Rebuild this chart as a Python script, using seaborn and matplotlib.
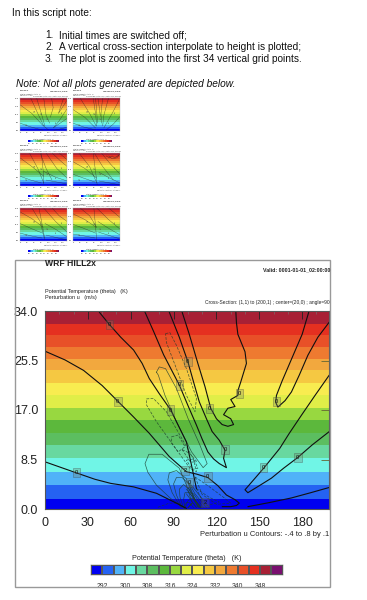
import numpy as np
import pandas as pd
import seaborn as sns
import matplotlib
matplotlib.use("Agg")
import matplotlib.pyplot as plt
from matplotlib.colors import ListedColormap
from matplotlib.patches import Rectangle

W, H = 367, 600

# colour table of the theta shading
theta_colors = ["#0000f0", "#2562f2", "#50b2f8", "#70f5e6", "#68d8a0", "#5cbe60", "#5cb83c",
                "#98d840", "#e0ee48", "#f8ec50", "#f5c842", "#f2a83e", "#ee7a30", "#e85028",
                "#e53020", "#a82035", "#7a1070"]
band_tops = [1.7, 4.1, 6.4, 8.7, 11, 13.1, 15.3, 17.4, 19.5, 21.7, 23.8, 25.8, 27.8, 29.8, 31.8, 34]
cbar_ticks = [1, 3, 5, 7, 9, 11, 13, 15]
cbar_labels = ["292", "300", "308", "316", "324", "332", "340", "348"]
x_ticks = [0, 30, 60, 90, 120, 150, 180]
y_ticks = [0, 8.5, 17, 25.5, 34]
y_labels = ["0.0", "8.5", "17.0", "25.5", "34.0"]

# main panel: zero contours (heavy)
zero_low = ([0, 22, 35, 46, 62, 78, 92, 99], [8.1, 6.2, 5.1, 4.4, 3.8, 2.7, 1.0, 0.1])
zero_long = ([0, 14, 27, 40, 51, 62, 73, 87, 99, 106, 114, 121, 127, 133, 136, 134, 130, 124],
             [27.1, 25.6, 23.8, 21.2, 18.5, 15.8, 13, 9, 6.4, 6, 5.4, 4, 2.4, 1.6, 1, 0.6, 0.4, 0.4])
zero_a = ([38, 45, 53, 62, 68, 73, 80, 88, 93, 99, 103, 106], [33.8, 31.7, 29.5, 27.3, 25, 22.4, 19.8, 17, 14.5, 11.5, 7, 3.5])
zero_u1 = ([70, 76, 83, 94, 100, 106, 110, 114, 118, 122, 127, 125, 126, 122, 117, 113, 108, 104, 100, 94, 87],
           [33.8, 30.5, 26.5, 21.3, 17.8, 14.4, 12, 9.8, 8.6, 7.8, 7.1, 8.7, 10.1, 11.8, 13.3, 15.5, 18.4, 21.8, 25.3, 29.5, 33.8])
zero_u2 = ([96, 101, 107, 112, 116, 120, 124, 128, 132, 130, 125, 128, 133, 130, 135, 135, 137, 141, 140, 135, 134, 133.6],
           [33.8, 30, 25, 21, 17.3, 15.5, 14.5, 14.2, 14.5, 15.5, 16.2, 17.3, 17.6, 18.8, 19.5, 20.3, 21.8, 25, 27, 30, 32, 33.8])
zero_r1 = ([184.6, 180, 173, 166, 162, 161.5, 163, 168, 172.5, 178, 184, 191, 199],
           [33.8, 30, 26, 22, 19.5, 18.3, 17.5, 18.6, 20.1, 23, 26.4, 29.5, 32.1])
zero_v = ([199, 189, 179.5, 171, 164.3, 153.4, 146, 140, 142, 150, 158.5, 167, 176.7, 187, 199],
          [23, 19.5, 16.1, 13, 10.4, 7.1, 5, 3.3, 2.8, 4, 5.3, 7, 8.8, 11, 13.3])
zero_low_r = ([142, 157, 172.5, 186, 199], [0.4, 1.1, 1.9, 2.8, 3.7])
heavy_lines = [zero_low, zero_long, zero_a, zero_u1, zero_u2, zero_r1, zero_v, zero_low_r]

# main panel: positive contours (thin, solid)
pos_loop = ([78, 80, 84.4, 92, 100.2, 108.4, 113.5, 110.7, 102.6, 92, 84, 79.3, 78],
            [23.5, 24.4, 24.1, 20.7, 15.5, 11, 7.8, 7.1, 9.8, 15, 19.5, 23, 23.5])
hill_1 = ([96, 88, 78, 72, 70, 72.7, 82, 94, 99, 102.6, 106], [0.4, 1.8, 4.1, 6.3, 7.8, 9.4, 9.4, 7, 4.1, 1.3, 0.3])
hill_2 = ([95, 89, 86, 87, 92, 99, 103, 107], [0.3, 2.8, 5, 6.2, 6.6, 5.2, 2.6, 0.3])
hill_3 = ([96, 92, 90, 92, 96, 101, 104, 108], [0.2, 2.4, 4.3, 5.4, 5.4, 4.2, 2.2, 0.2])
hill_4 = ([97, 94.5, 94, 97, 101, 105, 109], [0.2, 2, 3.4, 4.2, 3.4, 1.6, 0.2])
hill_5 = ([98, 97, 98, 101, 105, 110], [0.2, 1.6, 2.8, 2.8, 1.5, 0.2])
fan_1 = ([98, 100, 103, 108], [0.2, 1.4, 1.9, 0.2])
fan_2 = ([100, 102, 104, 111], [3.8, 2.8, 2.6, 0.2])
fan_3 = ([101, 105, 113], [4.4, 2.6, 0.2])
fan_4 = ([100, 103, 100], [0.2, 1, 0.2])
fan_5 = ([99, 103, 109], [3.4, 2.2, 0.2])
fan_6 = ([99, 102, 106], [2.6, 1.6, 0.2])
fan_7 = ([102, 106, 115], [4.2, 3, 0.2])
fan_8 = ([97, 99, 101, 104], [0.2, 1.1, 1.1, 0.2])
thin_solid = [pos_loop, hill_1, hill_2, hill_3, hill_4, hill_5, fan_1, fan_2, fan_3, fan_4,
              fan_5, fan_6, fan_7, fan_8]

# main panel: negative contours (thin, dashed)
neg_top = ([84.4, 87.4, 92, 99, 106, 105, 99, 92, 85, 84.4], [30.1, 30.3, 28.1, 24.1, 19, 16.7, 19.5, 24.1, 28.6, 30.1])
neg_mid = ([71, 75.8, 85, 94.4, 103.7, 106, 101.4, 89.7, 78, 71, 71], [18.9, 19, 16.7, 12.7, 8.7, 6.4, 7, 11, 15, 17.9, 18.9])
neg_in = ([88.6, 93.2, 98, 93.2, 88.6, 88.6], [12.4, 12.7, 10.7, 9.8, 11.3, 12.4])
neg_c1 = ([96, 101, 106, 102, 96], [10.2, 9.6, 8.2, 8, 10.2])
neg_c2 = ([99, 104, 107, 103, 99], [8.4, 8.6, 7, 6.8, 8.4])
neg_r1 = ([105, 114, 125, 130, 120, 110, 105], [5.5, 4, 2, 1, 0.8, 2.5, 5.5])
neg_r2 = ([106, 115, 122, 112, 106], [3.5, 2, 1.2, 0.5, 3.5])
neg_b = ([79, 87, 94, 98], [0.3, 1, 1, 0])
thin_dashed = [neg_top, neg_mid, neg_in, neg_c1, neg_c2, neg_r1, neg_r2, neg_b]

# main panel: contour labels
label_x = [22, 45, 51, 88, 100, 94, 115, 136, 162, 126, 153, 177, 114, 98, 101, 112]
label_y = [6.2, 31.7, 18.5, 17, 25.3, 21.3, 17.3, 19.9, 18.5, 10.2, 7.1, 8.8, 5.5, 6.6, 4.6, 1.1]
label_txt = ["0", "0", "0", "0", "0", "0", "0", "0", "0", "0", "0", "0", "0", "2", "0", "2"]

# thumbnails
thumb_1 = [([0, 40, 98], [8, 4.5, 0.5]), ([0, 50, 95, 120], [27, 18, 6, 1]), ([45, 75, 100], [34, 18, 5]),
           ([70, 90, 105], [34, 18, 5]), ([100, 110, 125], [34, 16, 8]), ([133, 140, 128], [34, 24, 14]),
           ([184, 162, 199], [34, 18, 32]), ([199, 164, 140, 199], [23, 10, 3, 13]), ([142, 199], [0.4, 3.7])]
thumb_2 = [([0, 45, 95], [8, 4, 1]), ([0, 50, 95], [22, 14, 3]), ([30, 70, 98], [34, 18, 5]),
           ([85, 95, 100], [34, 18, 5]), ([95, 100, 103], [34, 20, 8]), ([105, 112, 115], [34, 22, 15]),
           ([125, 118, 120], [34, 18, 8]), ([150, 130, 125], [34, 16, 5]), ([199, 165, 130], [34, 18, 3]),
           ([199, 170, 140], [15, 7, 1])]
thumb_3 = [([0, 45, 90], [10, 6, 3]), ([0, 50, 100], [29, 20, 10]), ([40, 75, 100], [34, 18, 3]),
           ([90, 98, 100], [34, 15, 2]), ([85, 110, 135], [34, 18, 6]), ([110, 155, 199], [34, 18, 8]),
           ([135, 170, 199], [34, 26, 20]), ([165, 199], [34, 27]), ([100, 150, 199], [15, 9, 5]),
           ([110, 199], [6, 2])]
thumb_4 = [([0, 45, 92], [12, 8, 4]), ([0, 50, 100], [25, 18, 8]), ([25, 70, 100], [34, 20, 3]),
           ([85, 95, 102], [34, 15, 1]), ([90, 125, 170], [34, 20, 6]), ([120, 160, 199], [34, 22, 12]),
           ([140, 152, 165, 175, 188, 199, 185, 165, 150], [31, 29, 31, 29, 31, 33, 29, 28, 31]),
           ([110, 155, 199], [14, 8, 3]), ([110, 199], [5, 1])]
thumb_5 = [([0, 50, 92], [8, 5, 3]), ([0, 45, 95], [18, 13, 8]), ([0, 50, 98], [30, 23, 14]),
           ([50, 85, 102], [34, 20, 3]), ([80, 95, 105], [34, 15, 1]), ([100, 150, 199], [34, 20, 9]),
           ([135, 165, 199], [34, 26, 20]), ([105, 150, 199], [18, 12, 4]), ([110, 160, 199], [6, 3, 1])]
thumb_6 = [([0, 50, 92], [7, 5, 3]), ([0, 45, 95], [17, 13, 8]), ([0, 50, 98], [28, 22, 14]),
           ([30, 70, 100], [34, 26, 14]), ([88, 95, 100], [34, 15, 1]), ([100, 150, 199], [34, 22, 12]),
           ([150, 175, 199], [34, 29, 24]), ([105, 150, 199], [20, 13, 6]), ([108, 160, 199], [9, 5, 2])]
thumb_lbl_x = [25, 60, 90, 115, 150, 175]
thumb_lbl_y = [6, 20, 17, 12, 8, 18]


def px_box(x0, y0, x1, y1):
    return [x0 / W, 1 - y1 / H, (x1 - x0) / W, (y1 - y0) / H]


def draw_lines(ax, lines, lw, color="black", ls="-", alpha=1.0):
    for xs, ys in lines:
        sns.lineplot(x=xs, y=ys, sort=False, estimator=None, ax=ax, color=color,
                     linewidth=lw, linestyle=ls, alpha=alpha, legend=False)


def draw_panel(tx, ty, s, heavy, solid=(), dashed=(), lx=(), ly=(), lt=()):
    # everything is laid out for the big panel and scaled down for the thumbnails
    small = s < 1

    def sx(px):
        return tx + s * (px - 45)

    def sy(py):
        return ty + s * (py - 311)

    def note(px, py, txt, size, ha="left", weight="normal"):
        fig.text(sx(px) / W, 1 - sy(py) / H, txt, fontsize=size * s, ha=ha, va="center",
                 fontweight=weight, color="#222222")

    if not small:
        fig.add_artist(Rectangle((sx(15.3) / W, 1 - sy(587) / H), (330 - 15.3) / W, (587 - 260) / H,
                                 transform=fig.transFigure, fill=False, ec="#999999", lw=1.0))
    note(45, 263.5, "WRF HILL2x", 6.2, weight="bold")
    note(330, 269.5, "Valid: 0001-01-01_02:00:00", 3.8, ha="right", weight="bold")
    note(45, 291, "Potential Temperature (theta)   (K)", 4.0)
    note(45, 297.5, "Perturbation u   (m/s)", 4.0)
    note(330, 302.5, "Cross-Section: (1,1) to (200,1) ; center=(20,0) ; angle=90", 3.55, ha="right")
    note(329, 534.5, "Perturbation u Contours: -.4 to .8 by .1", 5.4, ha="right")
    note(187, 559, "Potential Temperature (theta)   (K)", 5.2, ha="center")

    # theta bands
    box = px_box(sx(45), sy(311), sx(329.3), sy(509))
    ax_bg = fig.add_axes(box)
    heights = (np.arange(340) + 0.5) / 10
    bands = np.searchsorted(band_tops, heights)[::-1]
    sns.heatmap(pd.DataFrame(bands.reshape(-1, 1)), ax=ax_bg, cmap=ListedColormap(theta_colors[:16]),
                vmin=-0.5, vmax=15.5, cbar=False, xticklabels=False, yticklabels=False)

    # contours go on a second axes with real units
    ax = fig.add_axes(box, facecolor="none")
    draw_lines(ax, solid, 0.5, color="#1c3a2c", alpha=0.8)
    draw_lines(ax, dashed, 0.5, color="#1c3a2c", ls=(0, (4, 2)), alpha=0.8)
    if small:
        draw_lines(ax, heavy, 0.3, color="#222222", alpha=0.7)
    else:
        draw_lines(ax, heavy, 0.8, color="#101010")
    for x, y, t in zip(lx, ly, lt):
        if small:
            ax.text(x, y, t, fontsize=4.2 * s, ha="center", va="center", color="#333333",
                    bbox=dict(boxstyle="square,pad=0.35", fc=(0.4, 0.45, 0.35, 0.3), ec="none"))
        else:
            ax.text(x, y, t, fontsize=4.2, ha="center", va="center", color="#111111",
                    bbox=dict(boxstyle="square,pad=0.35", fc=(0.45, 0.5, 0.4, 0.3), ec=(0.25, 0.25, 0.25, 0.55), lw=0.4))
    ax.set_xlim(0, 199)
    ax.set_ylim(0, 34)
    ax.set_xlabel("")
    ax.set_ylabel("")
    ax.set_xticks(x_ticks)
    ax.set_xticks(np.arange(0, 200, 10), minor=True)
    ax.set_yticks(y_ticks)
    ax.set_yticklabels(y_labels)
    tick_col = "#888888" if small else "#222222"
    ax.tick_params(axis="x", which="major", direction="in", top=True, length=5.5 * s, width=0.6 * s,
                   labelsize=9 * s, pad=6 * s, labelcolor="#222222", color=tick_col)
    ax.tick_params(axis="x", which="minor", direction="in", top=True, length=2.5 * s, width=0.4 * s, color="#777777")
    ax.tick_params(axis="y", which="major", direction="in", right=True, length=5.5 * s, width=0.6 * s,
                   labelsize=9 * s, pad=5 * s, color="#666633", labelcolor="#222222")
    for sp in ax.spines.values():
        sp.set_color("#aaaaaa" if small else "#555555")
        sp.set_linewidth(0.25 if small else 0.8)
    ax.grid(False)

    # colour bar
    ax_cb = fig.add_axes(px_box(sx(91), sy(565), sx(282.7), sy(575)))
    sns.heatmap(pd.DataFrame([list(range(17))]), ax=ax_cb, cmap=ListedColormap(theta_colors), cbar=False,
                linewidths=0 if small else 0.2, linecolor="#555555", xticklabels=False, yticklabels=False)
    ax_cb.set_xticks(cbar_ticks)
    ax_cb.set_xticklabels(cbar_labels, rotation=0)
    ax_cb.tick_params(axis="x", length=0, labelsize=4.9 * s, pad=5.5 * s, labelcolor="#333333")
    if not small:
        for sp in ax_cb.spines.values():
            sp.set_visible(True)
            sp.set_color("#555555")
            sp.set_linewidth(0.3)


sns.set_theme(style="white")
plt.rcParams["font.family"] = ["Liberation Sans", "DejaVu Sans"]

fig = plt.figure(figsize=(W / 100, H / 100), dpi=100, facecolor="white")


def page_text(px, py, txt, **kw):
    fig.text(px / W, 1 - py / H, txt, fontsize=7.25, va="center", color="#111111", **kw)


page_text(12, 12.5, "In this script note:")
page_text(45, 35, "1.")
page_text(59, 35, "Initial times are switched off;")
page_text(45, 47, "2.")
page_text(59, 47, "A vertical cross-section interpolate to height is plotted;")
page_text(45, 59.5, "3.")
page_text(59, 59.5, "The plot is zoomed into the first 34 vertical grid points.")
page_text(15.5, 84, "Note: Not all plots generated are depicted below.", style="italic")

t = 0.166
lbl = ["0"] * len(thumb_lbl_x)
draw_panel(20, 98, t, thumb_1, lx=thumb_lbl_x, ly=thumb_lbl_y, lt=lbl)
draw_panel(73, 98, t, thumb_2, lx=thumb_lbl_x, ly=thumb_lbl_y, lt=lbl)
draw_panel(20, 153, t, thumb_3, lx=thumb_lbl_x, ly=thumb_lbl_y, lt=lbl)
draw_panel(73, 153, t, thumb_4, lx=thumb_lbl_x, ly=thumb_lbl_y, lt=lbl)
draw_panel(20, 208, t, thumb_5, lx=thumb_lbl_x, ly=thumb_lbl_y, lt=lbl)
draw_panel(73, 208, t, thumb_6, lx=thumb_lbl_x, ly=thumb_lbl_y, lt=lbl)

draw_panel(45, 311, 1.0, heavy_lines, thin_solid, thin_dashed, label_x, label_y, label_txt)

fig.savefig("out.png", dpi=100)
